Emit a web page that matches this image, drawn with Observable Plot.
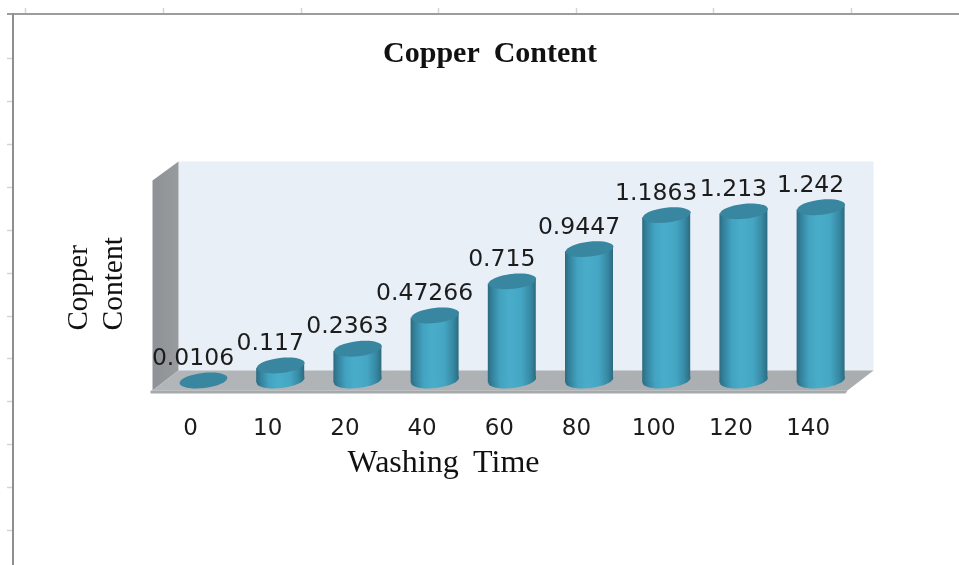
<!DOCTYPE html>
<html>
<head>
<meta charset="utf-8">
<script src="https://cdn.jsdelivr.net/npm/d3@7"></script>
<script src="https://cdn.jsdelivr.net/npm/@observablehq/plot@0.6"></script>
<style>
html,body{margin:0;padding:0;background:#fff;overflow:hidden}
svg{display:block;filter:blur(0.45px)}
</style>
</head>
<body>
<div id="chart"></div>
<script>
const categories = ["0","10","20","40","60","80","100","120","140"];
const values = [0.0106,0.117,0.2363,0.47266,0.715,0.9447,1.1863,1.213,1.242];
const titleText = "Copper Content";
const xLabel = "Washing Time";
const yLabelLines = ["Copper","Content"];

const rows = categories.map((c,i)=>({i,c,v:values[i]}));

// pixel-to-data helpers for the chart furniture only (walls, sheet frame)
const px = p => (p-203)/77.2;
const py = p => (381.5-p)/140.7;
const poly = (pts,fill) => Plot.line(pts.map(([x,y])=>({x:px(x),y:py(y)})),{x:"x",y:"y",fill,stroke:"none"});

// tilted ellipse used for cylinder caps
const tiltDeg = -6.5, halfW = 24;
function ellipseSymbol(rx,ry,deg){
  const a=deg*Math.PI/180,c=Math.cos(a),s=Math.sin(a),k=0.5523;
  const R=(x,y)=>[x*c-y*s,x*s+y*c];
  return {draw(ctx){
    ctx.moveTo(...R(rx,0));
    ctx.bezierCurveTo(...R(rx,k*ry),...R(k*rx,ry),...R(0,ry));
    ctx.bezierCurveTo(...R(-k*rx,ry),...R(-rx,k*ry),...R(-rx,0));
    ctx.bezierCurveTo(...R(-rx,-k*ry),...R(-k*rx,-ry),...R(0,-ry));
    ctx.bezierCurveTo(...R(k*rx,-ry),...R(rx,-k*ry),...R(rx,0));
    ctx.closePath();
  }};
}
const cap = ellipseSymbol(halfW,7.5,tiltDeg);
// cylinder body: two-point band with the same slant as the caps
const slant = halfW*Math.sin(-tiltDeg*Math.PI/180)/140.7;
const lift = 1.5/140.7;
const bodies = rows.filter(d=>d.i>0).flatMap(d=>[
  {i:d.i,x:d.i-halfW/77.2,y1:lift-slant,y2:d.v-slant},
  {i:d.i,x:d.i+halfW/77.2,y1:lift+slant,y2:d.v+slant}
]);

const defs = () => {
  const g = d3.create("svg:g");
  const d = g.append("defs");
  const grad=(id,stops,x2=1,y2=0)=>{
    const l=d.append("linearGradient").attr("id",id).attr("x1",0).attr("y1",0).attr("x2",x2).attr("y2",y2);
    stops.forEach(([o,c])=>l.append("stop").attr("offset",o).attr("stop-color",c));
  };
  grad("cyl",[[0,"#2c6a80"],[0.08,"#33809a"],[0.26,"#43a3c1"],[0.45,"#49adca"],[0.7,"#45a6c3"],[0.88,"#378aa4"],[1,"#2c6b81"]]);
  grad("side",[[0,"#8e9195"],[1,"#989b9e"]]);
  grad("floor",[[0,"#b2b6b8"],[1,"#a9adb0"]]);
  return g.node();
};

const sheetTopTicks = [25,163,301,438,576,713,851];
const sheetLeftTicks = [58,101,144,187,230,273,316,358,401,444,487,530];

const chart = Plot.plot({
  width:959,height:565,
  marginLeft:151,marginRight:86,marginTop:161,marginBottom:173,
  x:{type:"linear",domain:[px(151),px(873)],axis:null},
  y:{domain:[py(392),py(161)],axis:null},
  style:{background:"#fff",wordSpacing:"7px"},
  marks:[
    defs,
    // spreadsheet frame
    Plot.ruleX(sheetTopTicks.map(px),{y1:py(8),y2:py(13),stroke:"#d4d4d4",strokeWidth:1.5}),
    Plot.ruleY(sheetLeftTicks.map(py),{x1:px(7),x2:px(12),stroke:"#d4d4d4",strokeWidth:1.5}),
    Plot.ruleY([py(13.5)],{x1:px(7),x2:px(959),stroke:"#9c9c9c",strokeWidth:2}),
    Plot.ruleX([px(12.5)],{y1:py(13),y2:py(565),stroke:"#8f8f8f",strokeWidth:2}),
    // chart walls
    poly([[178,161],[873,161],[873,371],[178,371]],"#e8eff6"),
    poly([[152,180],[178,161],[178,370],[152,390]],"url(#side)"),
    poly([[152,390],[178,370],[873,370],[847,390]],"url(#floor)"),
    poly([[150,390],[847,390],[845,393],[150,393]],"#a6a9ac"),
    // cylinders
    Plot.dot(rows.filter(d=>d.i>0),{x:"i",y:()=>lift,symbol:cap,fill:"url(#cyl)"}),
    Plot.areaY(bodies,{x:"x",y1:"y1",y2:"y2",z:"i",fill:"url(#cyl)"}),
    Plot.dot(rows,{x:"i",y:"v",symbol:cap,fill:"#38869f"}),
    // value labels
    Plot.text(rows,{x:"i",y:"v",text:d=>String(d.v),dx:-10.5,dy:-23,fontSize:23.5,fontFamily:"DejaVu Sans",fill:"#1c1c1c"}),
    // category axis
    Plot.axisX(rows.map(d=>d.i),{anchor:"bottom",tickSize:0,tickPadding:26,dx:-13,tickFormat:i=>categories[i],
      fontSize:23,fontFamily:"DejaVu Sans",fill:"#1c1c1c",label:null}),
    // titles
    Plot.text([titleText],{x:px(489.5),y:py(52),fontSize:30,fontWeight:"bold",fontFamily:"Liberation Serif",fill:"#111"}),
    Plot.text([xLabel],{x:px(443),y:py(461),fontSize:32,fontFamily:"Liberation Serif",fill:"#111"}),
    Plot.text([yLabelLines[0]],{x:px(77),y:py(330),rotate:-90,textAnchor:"start",fontSize:29,fontFamily:"Liberation Serif",fill:"#111"}),
    Plot.text([yLabelLines[1]],{x:px(112),y:py(330),rotate:-90,textAnchor:"start",fontSize:29.5,fontFamily:"Liberation Serif",fill:"#111"})
  ]
});
document.getElementById("chart").append(chart);
</script>
</body>
</html>
